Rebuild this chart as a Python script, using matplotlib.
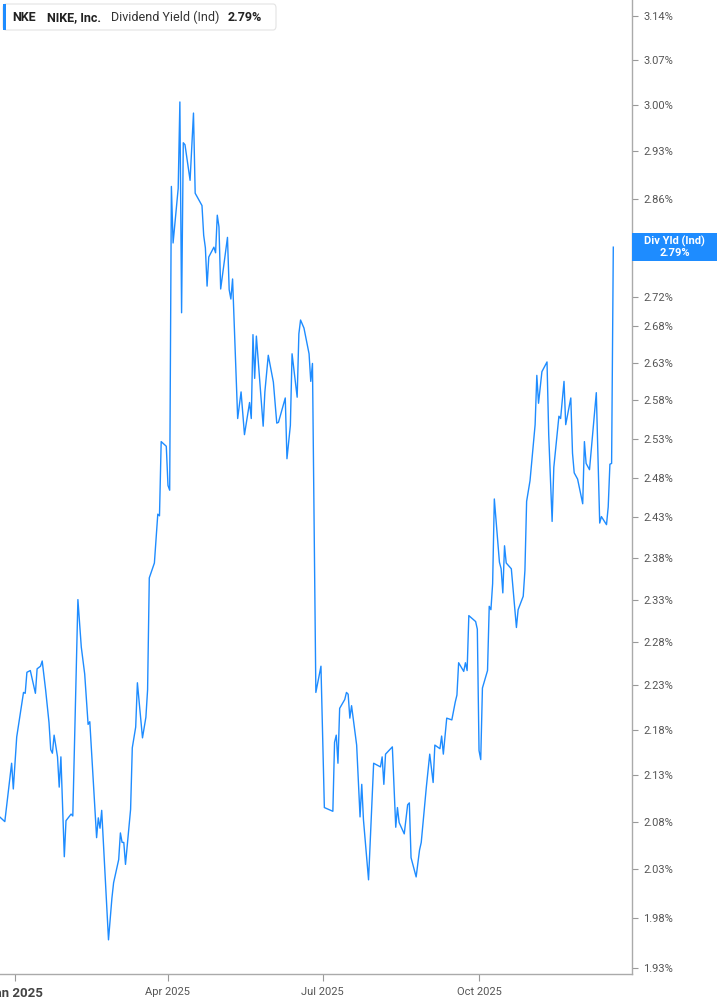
import matplotlib
matplotlib.use("Agg")
import matplotlib.pyplot as plt
import matplotlib.dates as mdates
from matplotlib.ticker import FixedLocator, NullLocator, NullFormatter
from matplotlib.patches import FancyBboxPatch, Rectangle
import pandas as pd

plt.rcParams['font.family'] = ['Roboto', 'DejaVu Sans']

# NKE dividend yield (indicated)
dates = [
    "2024-12-23", "2024-12-26", "2024-12-30", "2024-12-31", "2025-01-02", "2025-01-06",
    "2025-01-07", "2025-01-08", "2025-01-10", "2025-01-13", "2025-01-14", "2025-01-16",
    "2025-01-17", "2025-01-19", "2025-01-21", "2025-01-22", "2025-01-23", "2025-01-24",
    "2025-01-26", "2025-01-27", "2025-01-28", "2025-01-30", "2025-01-31", "2025-02-03",
    "2025-02-04", "2025-02-07", "2025-02-09", "2025-02-11", "2025-02-13", "2025-02-14",
    "2025-02-18", "2025-02-19", "2025-02-20", "2025-02-21", "2025-02-25", "2025-02-27",
    "2025-02-28", "2025-03-03", "2025-03-04", "2025-03-05", "2025-03-06", "2025-03-07",
    "2025-03-10", "2025-03-11", "2025-03-13", "2025-03-14", "2025-03-17", "2025-03-19",
    "2025-03-20", "2025-03-21", "2025-03-24", "2025-03-26", "2025-03-27", "2025-03-28",
    "2025-03-31", "2025-04-01", "2025-04-02", "2025-04-03", "2025-04-04", "2025-04-07",
    "2025-04-08", "2025-04-09", "2025-04-10", "2025-04-11", "2025-04-14", "2025-04-16",
    "2025-04-17", "2025-04-21", "2025-04-22", "2025-04-23", "2025-04-24", "2025-04-25",
    "2025-04-28", "2025-04-29", "2025-04-30", "2025-05-01", "2025-05-02", "2025-05-06",
    "2025-05-07", "2025-05-08", "2025-05-09", "2025-05-12", "2025-05-14", "2025-05-16",
    "2025-05-19", "2025-05-20", "2025-05-21", "2025-05-22", "2025-05-23", "2025-05-27",
    "2025-05-28", "2025-05-30", "2025-06-02", "2025-06-04", "2025-06-05", "2025-06-09",
    "2025-06-10", "2025-06-12", "2025-06-13", "2025-06-16", "2025-06-17", "2025-06-18",
    "2025-06-20", "2025-06-23", "2025-06-24", "2025-06-25", "2025-06-27", "2025-06-30",
    "2025-07-02", "2025-07-07", "2025-07-08", "2025-07-09", "2025-07-10", "2025-07-11",
    "2025-07-14", "2025-07-15", "2025-07-16", "2025-07-17", "2025-07-18", "2025-07-21",
    "2025-07-23", "2025-07-24", "2025-07-25", "2025-07-28", "2025-07-31", "2025-08-04",
    "2025-08-05", "2025-08-06", "2025-08-07", "2025-08-11", "2025-08-13", "2025-08-14",
    "2025-08-15", "2025-08-18", "2025-08-20", "2025-08-21", "2025-08-22", "2025-08-25",
    "2025-08-27", "2025-08-28", "2025-08-31", "2025-09-02", "2025-09-04", "2025-09-05",
    "2025-09-08", "2025-09-09", "2025-09-10", "2025-09-12", "2025-09-15", "2025-09-17",
    "2025-09-18", "2025-09-19", "2025-09-22", "2025-09-23", "2025-09-24", "2025-09-25",
    "2025-09-29", "2025-09-30", "2025-10-01", "2025-10-02", "2025-10-03", "2025-10-06",
    "2025-10-07", "2025-10-08", "2025-10-09", "2025-10-10", "2025-10-13", "2025-10-14",
    "2025-10-15", "2025-10-16", "2025-10-17", "2025-10-20", "2025-10-23", "2025-10-24",
    "2025-10-27", "2025-10-28", "2025-10-29", "2025-10-31", "2025-11-03", "2025-11-04",
    "2025-11-05", "2025-11-07", "2025-11-10", "2025-11-11", "2025-11-13", "2025-11-14",
    "2025-11-17", "2025-11-18", "2025-11-20", "2025-11-21", "2025-11-24", "2025-11-25",
    "2025-11-26", "2025-11-28", "2025-12-01", "2025-12-02", "2025-12-03", "2025-12-05",
    "2025-12-09", "2025-12-11", "2025-12-12", "2025-12-15", "2025-12-16", "2025-12-17",
    "2025-12-18", "2025-12-19",
]
yld = [
    2.085, 2.080, 2.143, 2.115, 2.172, 2.222,
    2.221, 2.245, 2.247, 2.221, 2.249, 2.252,
    2.258, 2.225, 2.188, 2.158, 2.154, 2.174,
    2.150, 2.117, 2.150, 2.043, 2.081, 2.088,
    2.086, 2.330, 2.274, 2.243, 2.186, 2.189,
    2.063, 2.084, 2.073, 2.092, 1.958, 2.000,
    2.016, 2.040, 2.068, 2.058, 2.058, 2.035,
    2.093, 2.160, 2.183, 2.233, 2.171, 2.194,
    2.225, 2.356, 2.374, 2.434, 2.432, 2.526,
    2.520, 2.470, 2.464, 2.878, 2.796, 2.875,
    3.005, 2.698, 2.943, 2.940, 2.887, 2.988,
    2.868, 2.850, 2.807, 2.789, 2.735, 2.776,
    2.790, 2.782, 2.836, 2.819, 2.731, 2.804,
    2.730, 2.717, 2.745, 2.556, 2.591, 2.535,
    2.577, 2.556, 2.668, 2.609, 2.666, 2.546,
    2.591, 2.640, 2.604, 2.550, 2.551, 2.583,
    2.504, 2.547, 2.642, 2.584, 2.669, 2.688,
    2.677, 2.642, 2.605, 2.629, 2.222, 2.252,
    2.095, 2.091, 2.166, 2.174, 2.143, 2.204,
    2.214, 2.222, 2.220, 2.193, 2.207, 2.163,
    2.085, 2.120, 2.082, 2.019, 2.143, 2.139,
    2.150, 2.120, 2.153, 2.161, 2.074, 2.095,
    2.079, 2.067, 2.098, 2.100, 2.042, 2.022,
    2.050, 2.058, 2.117, 2.153, 2.122, 2.163,
    2.159, 2.173, 2.153, 2.193, 2.191, 2.211,
    2.219, 2.256, 2.246, 2.256, 2.247, 2.311,
    2.304, 2.295, 2.157, 2.147, 2.227, 2.247,
    2.322, 2.318, 2.349, 2.453, 2.375, 2.367,
    2.338, 2.395, 2.374, 2.367, 2.297, 2.318,
    2.334, 2.365, 2.450, 2.476, 2.548, 2.613,
    2.576, 2.618, 2.631, 2.535, 2.425, 2.493,
    2.559, 2.556, 2.605, 2.548, 2.583, 2.511,
    2.486, 2.478, 2.447, 2.526, 2.498, 2.490,
    2.590, 2.423, 2.431, 2.421, 2.443, 2.497,
    2.498, 2.790,
]

ytick_vals = [3.14, 3.07, 3.00, 2.93, 2.86, 2.79, 2.72, 2.68, 2.63, 2.58, 2.53, 2.48,
              2.43, 2.38, 2.33, 2.28, 2.23, 2.18, 2.13, 2.08, 2.03, 1.98, 1.93]
xtick_dates = ["2025-01-01", "2025-04-01", "2025-07-01", "2025-10-01"]
xtick_labels = ["Jan 2025", "Apr 2025", "Jul 2025", "Oct 2025"]

blue = "#1E8CFF"
W, H = 717, 1005

fig = plt.figure(figsize=(W / 100, H / 100), dpi=100)
ax = fig.add_axes([0, 1 - 974 / H, 632 / W, 974 / H])

x = mdates.date2num(pd.to_datetime(dates))
ax.plot(x, yld, color=blue, lw=1.0)
ax.xaxis_date()

ax.set_yscale("log")
ax.set_ylim(1.9241, 3.1658)
ax.set_xlim(mdates.date2num(pd.Timestamp("2024-12-23 04:00")),
            mdates.date2num(pd.Timestamp("2025-12-30")))

# y ticks on the right; the 2.79% tick sits under the last-value tag
ax.yaxis.tick_right()
ax.yaxis.set_major_locator(FixedLocator(ytick_vals))
ax.yaxis.set_minor_locator(NullLocator())
ax.yaxis.set_minor_formatter(NullFormatter())
ax.set_yticklabels(["" if abs(v - yld[-1]) < 1e-6 else f"{v:.2f}%" for v in ytick_vals])
ax.tick_params(axis="y", which="major", direction="out", length=4, width=0.8,
               color="#999999", labelcolor="#555555", labelsize=8, pad=4)

xt = [mdates.date2num(pd.Timestamp(d)) for d in xtick_dates]
ax.set_xticks(xt)
ax.set_xticklabels(xtick_labels)
ax.tick_params(axis="x", direction="out", length=5, width=0.8, color="#999999",
               labelcolor="#555555", labelsize=8, pad=4)
first = ax.get_xticklabels()[0]
first.set_fontweight("bold")
first.set_fontsize(9.5)
first.set_color("#444444")

for s in ["top", "left"]:
    ax.spines[s].set_visible(False)
for s in ["right", "bottom"]:
    ax.spines[s].set_color("#aaaaaa")
    ax.spines[s].set_linewidth(1.0)

# legend box top-left
box = FancyBboxPatch((3 / W, 1 - 30 / H), 273 / W, 26 / H,
                     boxstyle="round,pad=0,rounding_size=0.004",
                     transform=fig.transFigure, facecolor="white",
                     edgecolor="#e3e3e3", lw=0.8)
fig.patches.append(box)
fig.patches.append(Rectangle((3 / W, 1 - 30 / H), 3 / W, 26 / H,
                             transform=fig.transFigure, facecolor=blue, lw=0))
ty = 1 - 17.5 / H
fig.text(12 / W, ty, "NKE", fontsize=9, fontweight="bold", color="#222222", va="center")
fig.text(47 / W, ty, "NIKE, Inc.", fontsize=9, fontweight="bold", color="#222222", va="center")
fig.text(111 / W, ty, "Dividend Yield (Ind)", fontsize=9, color="#333333", va="center")
fig.text(228 / W, ty, "2.79%", fontsize=9, fontweight="bold", color="#222222", va="center")

# last value tag on the right axis
fig.canvas.draw()
last_y = ax.transData.transform((x[-1], yld[-1]))[1] / fig.bbox.height
fig.patches.append(Rectangle((632 / W, last_y - 14 / H), 85 / W, 28 / H,
                             transform=fig.transFigure, facecolor=blue, lw=0))
fig.text((632 + 42.5) / W, last_y + 6 / H, "Div Yld (Ind)", fontsize=8, fontweight="bold",
         color="white", ha="center", va="center")
fig.text((632 + 42.5) / W, last_y - 6 / H, f"{yld[-1]:.2f}%", fontsize=8, fontweight="bold",
         color="white", ha="center", va="center")

fig.savefig("out.png", dpi=100)
